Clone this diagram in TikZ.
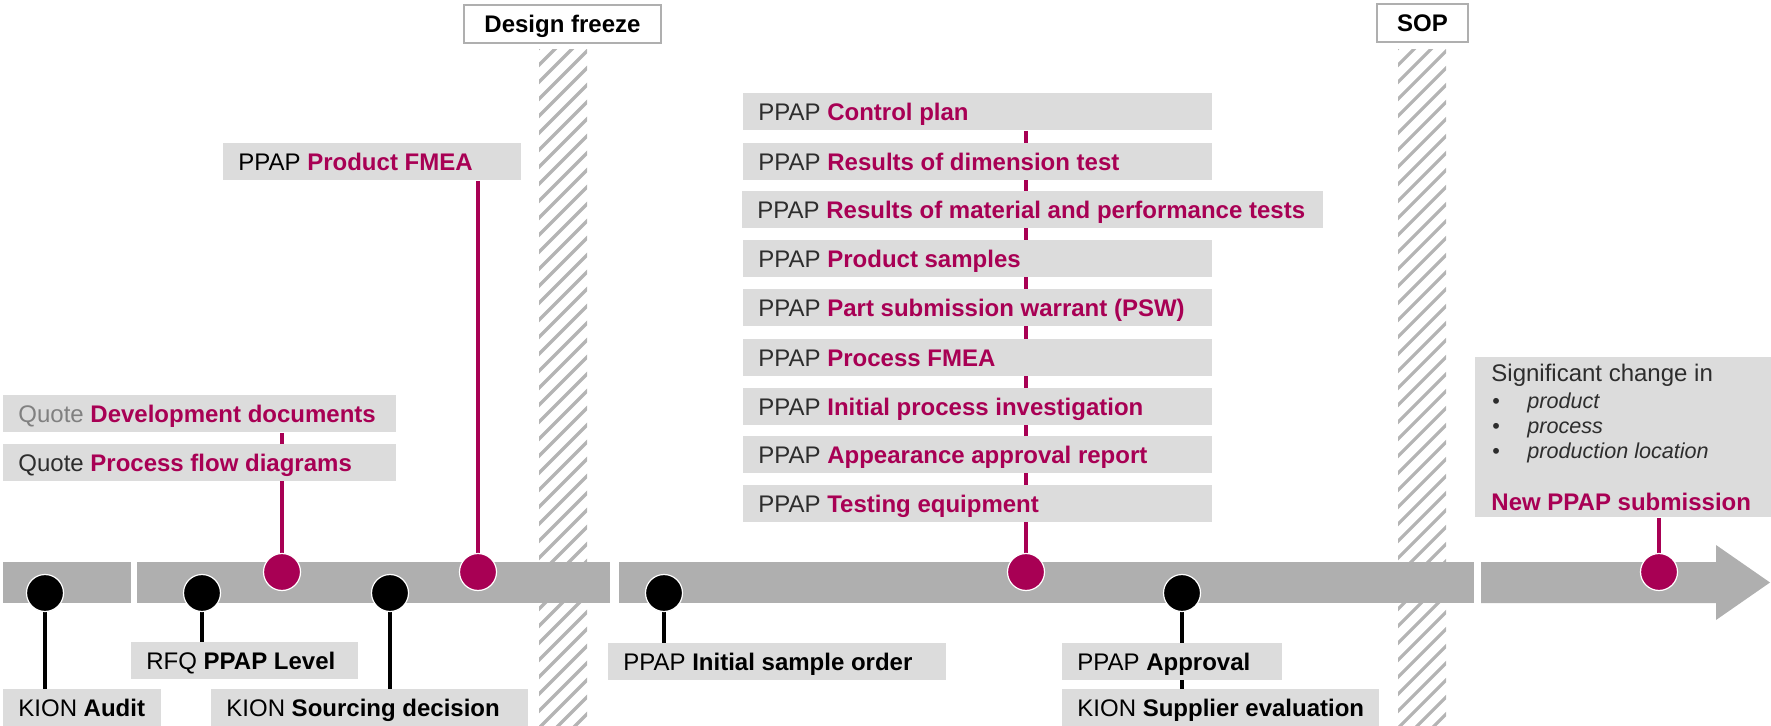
\documentclass[tikz,border=0pt]{standalone}
\usepackage{fontspec}
\setmainfont{Liberation Sans}
\definecolor{mag}{RGB}{168,0,84}
\definecolor{bargray}{RGB}{175,175,175}
\definecolor{boxgray}{RGB}{220,220,220}
\definecolor{hatchgray}{RGB}{180,180,180}
\definecolor{txt}{RGB}{45,45,45}
\definecolor{qgray}{RGB}{128,128,128}
\pgfdeclarelayer{back}
\pgfdeclarelayer{lines}
\pgfsetlayers{back,lines,main}
\newcommand\fs{\fontsize{12}{14}\selectfont}
\newcommand\fsi{\fontsize{10.8}{12}\selectfont}
\newcommand\lb[2]{\makebox[#1][l]{#2}}
\newcommand\mg[1]{{\color{mag}\bfseries #1}}
\begin{document}
\begin{tikzpicture}[x=0.5pt,y=-0.5pt,
 box/.style={fill=boxgray, inner xsep=7.5pt, inner ysep=0pt, minimum height=18.5pt, anchor=north west, text height=8.6pt, text depth=0pt, font=\fs, text=txt},
 dotm/.style={circle, fill=mag, draw=white, line width=0.6pt, minimum size=18.5pt, inner sep=0pt},
 dotb/.style={circle, fill=black, draw=white, line width=0.6pt, minimum size=18.5pt, inner sep=0pt},
 magline/.style={draw=mag, line width=1.8pt},
 blkline/.style={draw=black, line width=1.7pt},
 bar/.style={fill=bargray},
 hatchline/.style={draw=hatchgray, line width=1.6pt},
 milestone/.style={draw=bargray, line width=1pt, fill=white, font=\fs\bfseries, inner sep=0pt, text height=8.6pt, text depth=0pt, minimum height=19pt},
 sigtext/.style={anchor=base west, inner sep=0pt, text=txt}
]
\useasboundingbox (0,0) rectangle (1771,726);

% hatched bands and timeline bars
\begin{pgfonlayer}{back}
\foreach \hx in {539,1398}{
  \begin{scope}
    \clip (\hx,50) rectangle ++(48,676);
    \foreach \k in {0,...,46} \draw[hatchline] (\hx-2,50+\k*17) -- ++(52,-52);
  \end{scope}
}
\fill[bar] (3,562) rectangle (131,603);
\fill[bar] (137,562) rectangle (610,603);
\fill[bar] (619,562) rectangle (1474,603);
\fill[bar] (1481,562) -- (1716,562) -- (1716,545) -- (1770,582.5) -- (1716,620) -- (1716,603) -- (1481,603) -- cycle;
\end{pgfonlayer}

% milestones
\node[milestone, minimum width=98.5pt] (df) at (562.5,24) {Design freeze};
\node[milestone, minimum width=45.5pt] (sop) at (1422.5,23) {SOP};

% upper boxes
\node[box] (qdev) at (3,395) {\lb{181.5pt}{{\color{qgray}Quote} \mg{Development documents}}};
\node[box] (qproc) at (3,444) {\lb{181.5pt}{Quote \mg{Process flow diagrams}}};
\node[box, text=black] (pfmea) at (223,143) {\lb{134pt}{PPAP \mg{Product FMEA}}};

\node[box] (s1) at (743,93) {\lb{219.5pt}{PPAP \mg{Control plan}}};
\node[box] (s2) at (743,143) {\lb{219.5pt}{PPAP \mg{Results of dimension test}}};
\node[box] (s3) at (742,191) {\lb{275.5pt}{PPAP \mg{Results of material and performance tests}}};
\node[box] (s4) at (743,240) {\lb{219.5pt}{PPAP \mg{Product samples}}};
\node[box] (s5) at (743,289) {\lb{219.5pt}{PPAP \mg{Part submission warrant (PSW)}}};
\node[box] (s6) at (743,339) {\lb{219.5pt}{PPAP \mg{Process FMEA}}};
\node[box] (s7) at (743,388) {\lb{219.5pt}{PPAP \mg{Initial process investigation}}};
\node[box] (s8) at (743,436) {\lb{219.5pt}{PPAP \mg{Appearance approval report}}};
\node[box] (s9) at (743,485) {\lb{219.5pt}{PPAP \mg{Testing equipment}}};

\node[fill=boxgray, anchor=north west, minimum width=148pt, minimum height=80pt, inner sep=0pt] (sig) at (1475,357) {};
\node[sigtext, font=\fs] (sigt) at (1491,382) {Significant change in};
\node[sigtext, font=\fsi] (b1) at (1492,409) {•};
\node[sigtext, font=\fsi\itshape] (i1) at (1527,409) {product};
\node[sigtext, font=\fsi] (b2) at (1492,434) {•};
\node[sigtext, font=\fsi\itshape] (i2) at (1527,434) {process};
\node[sigtext, font=\fsi] (b3) at (1492,459) {•};
\node[sigtext, font=\fsi\itshape] (i3) at (1527,459) {production location};
\node[sigtext, font=\fs\bfseries, text=mag] (newp) at (1491,510) {New PPAP submission};

% lower boxes
\node[box, text=black] (rfq) at (131,642) {\lb{98.5pt}{RFQ \textbf{PPAP Level}}};
\node[box, text=black] (audit) at (3,689) {\lb{64pt}{KION \textbf{Audit}}};
\node[box, text=black] (src) at (211,689) {\lb{143.5pt}{KION \textbf{Sourcing decision}}};
\node[box, text=black] (iso) at (608,643) {\lb{154pt}{PPAP \textbf{Initial sample order}}};
\node[box, text=black] (appr) at (1062,643) {\lb{95pt}{PPAP \textbf{Approval}}};
\node[box, text=black] (supev) at (1062,689) {\lb{143.5pt}{KION \textbf{Supplier evaluation}}};

% dots
\node[dotb] (dA) at (45,593) {};
\node[dotb] (dR) at (202,593) {};
\node[dotb] (dS) at (390,593) {};
\node[dotm] (d1) at (282,572) {};
\node[dotm] (d2) at (478,572) {};
\node[dotb] (dI) at (664,593) {};
\node[dotm] (d3) at (1026,572) {};
\node[dotb] (dAp) at (1182,593) {};
\node[dotm] (d4) at (1659,572) {};

% connectors
\begin{pgfonlayer}{lines}
\draw[magline] (qdev.south -| d1) -- (d1.center);
\draw[magline] (pfmea.south -| d2) -- (d2.center);
\draw[magline] (s1.south -| d3) -- (d3.center);
\draw[magline] (sig.south -| d4) -- (d4.center);
\draw[blkline] (dA.center) -- (dA |- audit.north);
\draw[blkline] (dR.center) -- (dR |- rfq.north);
\draw[blkline] (dS.center) -- (dS |- src.north);
\draw[blkline] (dI.center) -- (dI |- iso.north);
\draw[blkline] (dAp.center) -- (dAp |- supev.north);
\end{pgfonlayer}
\end{tikzpicture}
\end{document}
